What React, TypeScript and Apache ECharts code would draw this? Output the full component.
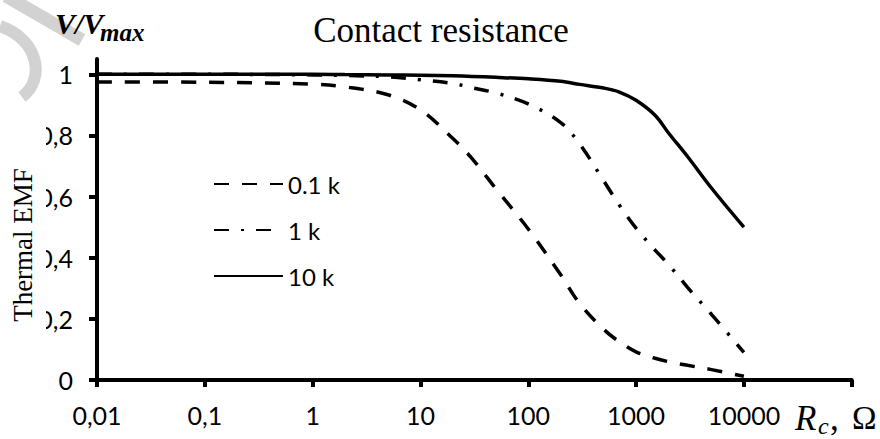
import React, { useEffect, useRef } from "react";
import * as echarts from "echarts";

const xValues = [0.01, 0.1, 1, 2, 5, 10, 20, 30, 50, 100, 200, 300, 500, 700, 1000, 1500, 2000, 3000, 5000, 10000];
const series01k = [0.975, 0.974, 0.968, 0.959, 0.933, 0.884, 0.79, 0.725, 0.626, 0.494, 0.344, 0.25, 0.166, 0.125, 0.092, 0.071, 0.06, 0.048, 0.034, 0.012];
const series1k = [1.0, 1.0, 0.998, 0.996, 0.992, 0.982, 0.97, 0.956, 0.939, 0.903, 0.842, 0.772, 0.652, 0.572, 0.497, 0.425, 0.378, 0.303, 0.215, 0.09];
const series10k = [1.0, 1.0, 1.0, 0.999, 0.998, 0.997, 0.995, 0.993, 0.99, 0.985, 0.977, 0.967, 0.955, 0.942, 0.915, 0.866, 0.808, 0.731, 0.628, 0.5];
const seriesNames = ["0.1 k", "1 k", "10 k"];
const xTickLabels = ["0,01", "0,1", "1", "10", "100", "1000", "10000", ""];
const yTickValues = [0, 0.2, 0.4, 0.6, 0.8, 1];
const yTickLabels = ["0", "0,2", "0,4", "0,6", "0,8", "1"];

const SERIF = '"Liberation Serif", "Times New Roman", serif';
const SANS = 'Lato, "Open Sans", sans-serif';

export default function App() {
  const ref = useRef<HTMLDivElement>(null);
  useEffect(() => {
    if (!ref.current) return;
    const chart = echarts.init(ref.current, undefined, { renderer: "svg" });
    const mk = (vals: number[]) => xValues.map((x, i) => [x, vals[i]]);
    const baseLine = {
      type: "line",
      symbol: "none",
      showSymbol: false,
      smooth: 0.35,
      silent: true,
      itemStyle: { color: "#000" },
    };
    const txt = (x: number, y: number, text: string, font: string, align = "left", extra: any = {}) => ({
      type: "text",
      silent: true,
      z: 101,
      x,
      y,
      ...extra,
      style: { text, font, fill: "#000", align, verticalAlign: "middle", textAlign: align, textVerticalAlign: "middle" },
    });
    const option: any = {
      animation: false,
      backgroundColor: "#fff",
      grid: { left: 97, right: 28.3, top: 59, bottom: 59, containLabel: false, outerBoundsMode: "none" },
      legend: {
        orient: "vertical",
        left: 213,
        top: 172,
        padding: 0,
        itemWidth: 69,
        itemHeight: 14,
        itemGap: 22,
        itemStyle: { color: "rgba(0,0,0,0)", borderWidth: 0, opacity: 0 },
        textStyle: { fontFamily: SANS, fontSize: 24, color: "#000" },
        data: seriesNames,
      },
      xAxis: {
        type: "log",
        logBase: 10,
        min: 0.01,
        max: 100000,
        axisLine: { lineStyle: { color: "#000", width: 4 } },
        axisTick: { show: true, inside: false, length: 7, lineStyle: { color: "#000", width: 4 } },
        splitLine: { show: false },
        minorTick: { show: false },
        axisLabel: {
          margin: 22,
          color: "#000",
          fontFamily: SANS,
          fontSize: 25,
          showMaxLabel: true,
          formatter: (v: number) => {
            const i = Math.round(Math.log10(v)) + 2;
            return xTickLabels[i] ?? "";
          },
        },
      },
      yAxis: {
        type: "value",
        min: 0,
        max: 1.05,
        axisLine: { show: true, lineStyle: { color: "#000", width: 4 } },
        axisTick: {
          show: true,
          inside: false,
          length: 8,
          lineStyle: { color: "#000", width: 4 },
          customValues: yTickValues,
        },
        splitLine: { show: false },
        axisLabel: {
          margin: 24,
          color: "#000",
          fontFamily: SANS,
          fontSize: 25,
          customValues: yTickValues,
          formatter: (v: number) => {
            const i = yTickValues.findIndex((t) => Math.abs(t - v) < 1e-6);
            return i >= 0 ? yTickLabels[i] : "";
          },
        },
      },
      series: [
        { ...baseLine, name: seriesNames[0], data: mk(series01k), lineStyle: { color: "#000", width: 3.5, type: [15, 13] } },
        { ...baseLine, name: seriesNames[1], data: mk(series1k), lineStyle: { color: "#000", width: 3.5, type: [15, 12, 3, 12] } },
        { ...baseLine, name: seriesNames[2], data: mk(series10k), lineStyle: { color: "#000", width: 3.5, type: "solid" } },
      ],
      graphic: [
        {
          type: "polyline",
          silent: true,
          z: 0,
          shape: { points: [[6, -4], [82, 40]] },
          style: { stroke: "#d2d2d2", lineWidth: 13, fill: null },
        },
        {
          type: "bezierCurve",
          silent: true,
          z: 0,
          shape: { x1: 0, y1: 26, cpx1: 40, cpy1: 40, cpx2: 45, cpy2: 80, x2: 22, y2: 97 },
          style: { stroke: "#d2d2d2", lineWidth: 12, fill: null },
        },
        {
          type: "rect",
          silent: true,
          z: 100,
          shape: { x: 0, y: 105, width: 46, height: 240 },
          style: { fill: "#fff" },
        },
        txt(23, 245, "Thermal EMF", `27px ${SERIF}`, "center", { rotation: Math.PI / 2 }),
        txt(441, 30, "Contact resistance", `35px ${SERIF}`, "center"),
        txt(55, 23, "V/V", `bold italic 30px ${SERIF}`),
        txt(100, 32, "max", `bold italic 25px ${SERIF}`),
        txt(795, 418, "R", `italic 35px ${SERIF}`),
        txt(818, 426, "c", `italic 24px ${SERIF}`),
        txt(830, 418, ",", `35px ${SERIF}`),
        txt(852, 418, "Ω", `33px ${SERIF}`),
      ],
    };
    chart.setOption(option);
    return () => chart.dispose();
  }, []);
  return <div ref={ref} style={{ width: 880, height: 439, position: "absolute", left: 0, top: 0 }} />;
}
